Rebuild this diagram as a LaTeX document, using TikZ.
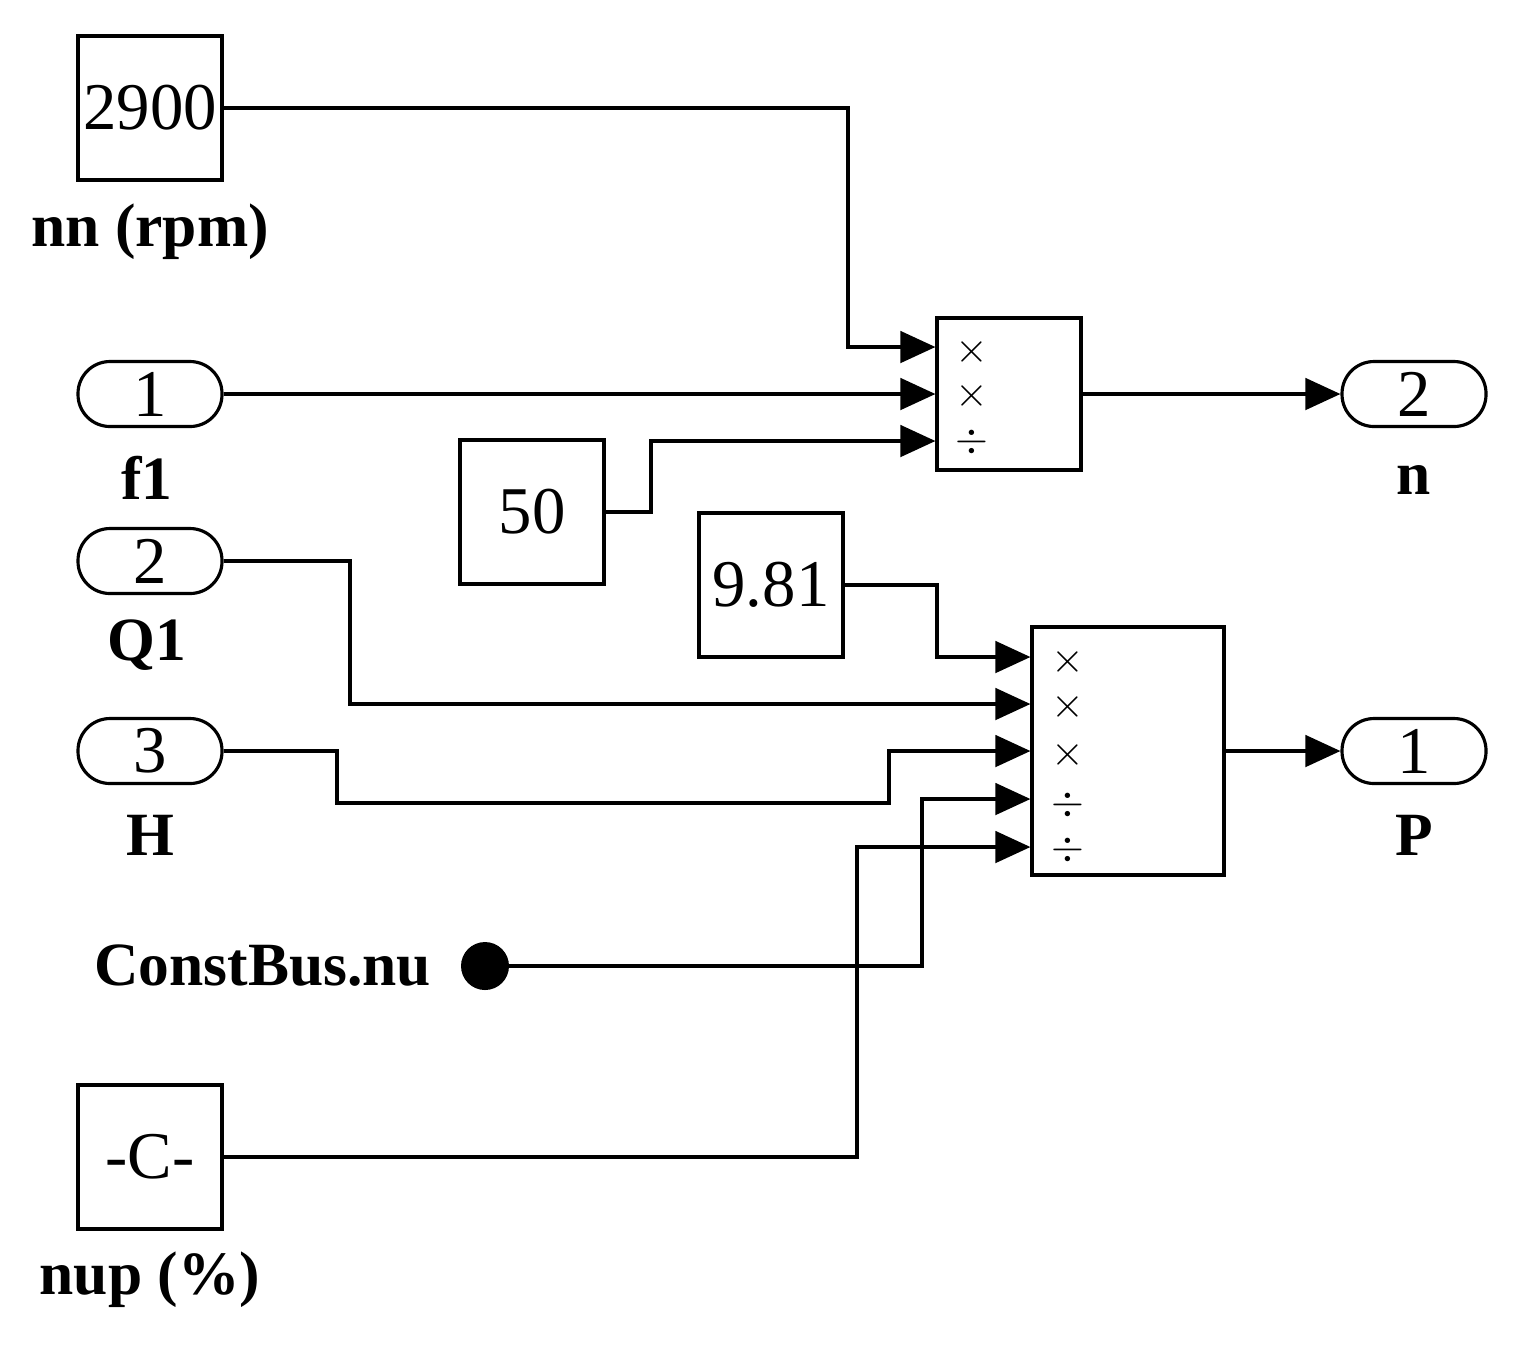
\documentclass[tikz,border=0pt]{standalone}
\usepackage{fontspec}
\setmainfont{Liberation Serif}
\usetikzlibrary{arrows.meta}
\begin{document}
\begin{tikzpicture}[line width=0.9pt,>={Triangle[length=10pt,width=9pt]}]
\tikzstyle{blk}=[draw,minimum width=1.44cm,minimum height=1.44cm,inner sep=0pt,font=\fontsize{19}{22}\selectfont];
\tikzstyle{port}=[draw,rounded corners=0.32cm,minimum width=1.44cm,minimum height=0.65cm,inner sep=0pt,font=\fontsize{19}{22}\selectfont];
\tikzstyle{lbl}=[font=\bfseries\fontsize{17.5}{21}\selectfont];
\tikzstyle{sgn}=[font=\fontsize{13}{14}\selectfont,inner sep=0pt];
\useasboundingbox (0,0) rectangle (15.31,-13.50);

% sources
\node [blk] (nn) at (1.50,-1.08) {2900};
\node [lbl] at (1.50,-2.32) {nn (rpm)};
\node [port] (f1) at (1.50,-3.94) {1};
\node [lbl] at (1.47,-4.78) {f1};
\node [port] (q1) at (1.50,-5.61) {2};
\node [lbl] at (1.47,-6.45) {Q1};
\node [port] (h) at (1.50,-7.51) {3};
\node [lbl] at (1.50,-8.35) {H};
\node [blk] (c50) at (5.32,-5.12) {50};
\node [blk] (g) at (7.71,-5.85) {9.81};
\node [blk] (nup) at (1.50,-11.57) {-C-};
\node [lbl] at (1.50,-12.80) {nup (\%)};
\node [circle,fill,inner sep=0pt,minimum size=0.48cm] (bus) at (4.85,-9.66) {};
\node [lbl,left=0.15cm] at (bus.west) {ConstBus.nu};

% products
\node [draw,minimum width=1.44cm,minimum height=1.52cm] (p1) at (10.09,-3.94) {};
\node [sgn] at (9.72,-3.52) {$\times$};
\node [sgn] at (9.72,-3.96) {$\times$};
\node [sgn] at (9.72,-4.42) {$\div$};
\node [draw,minimum width=1.92cm,minimum height=2.48cm] (p2) at (11.28,-7.51) {};
\node [sgn] at (10.68,-6.62) {$\times$};
\node [sgn] at (10.68,-7.07) {$\times$};
\node [sgn] at (10.68,-7.55) {$\times$};
\node [sgn] at (10.68,-8.05) {$\div$};
\node [sgn] at (10.68,-8.50) {$\div$};

% sinks
\node [port] (n) at (14.14,-3.94) {2};
\node [lbl] at (14.14,-4.80) {n};
\node [port] (pw) at (14.14,-7.51) {1};
\node [lbl] at (14.14,-8.35) {P};

% wires
\draw [->] (nn.east) -| (8.48,-3.47) -- (p1.west|-0,-3.47);
\draw [->] (f1.east) -- (p1.west|-f1);
\draw [->] (c50.east) -- (6.51,-5.12) |- (p1.west|-0,-4.41);
\draw [->] (p1.east) -- (n.west);
\draw [->] (g.east) -| (9.37,-6.57) -- (p2.west|-0,-6.57);
\draw [->] (q1.east) -| (3.50,-7.04) -- (p2.west|-0,-7.04);
\draw [->] (h.east) -| (3.37,-8.03) -| (8.89,-7.51) -- (p2.west|-h);
\draw [->] (bus.center) -| (9.22,-7.99) -- (p2.west|-0,-7.99);
\draw [->] (nup.east) -| (8.57,-8.47) -- (p2.west|-0,-8.47);
\draw [->] (p2.east) -- (pw.west);
\end{tikzpicture}
\end{document}
